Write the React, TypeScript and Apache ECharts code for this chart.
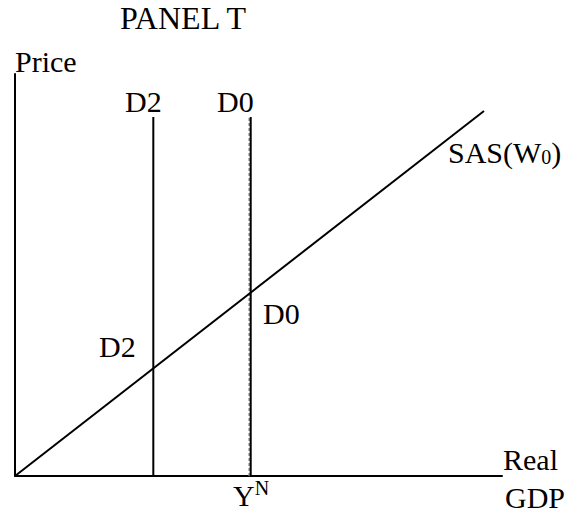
import React, { useEffect, useRef } from "react";
import * as echarts from "echarts";

// Data (arbitrary units: Real GDP on x, Price on y)
const xRange = [0, 100];
const yRange = [0, 100];
const d2X = 28.4; // D2 vertical demand
const d0X = 48.4; // D0 vertical demand at Y^N
const demandTop = 89.3;
const sasStart = [0, 0];
const sasEnd = [96.3, 90.8];

const FONT = "'Liberation Serif', 'Times New Roman', serif";
const FS = 30;

export default function App() {
  const ref = useRef<HTMLDivElement>(null);
  useEffect(() => {
    if (!ref.current) return;
    const chart = echarts.init(ref.current, undefined, { renderer: "svg" });
    const txt = (text: string, x: number, y: number, extra: any = {}) => ({
      type: "text",
      x,
      y,
      style: {
        text,
        fontFamily: FONT,
        fontSize: FS,
        fill: "#000",
        verticalAlign: "middle",
        align: "left",
        ...extra,
      },
    });
    const axisStyle = {
      show: true,
      lineStyle: { color: "#000", width: 2 },
    };
    chart.setOption({
      animation: false,
      backgroundColor: "#fff",
      grid: { left: 15, top: 74, right: 67, bottom: 37, containLabel: false },
      xAxis: {
        type: "value",
        min: xRange[0],
        max: xRange[1],
        axisLine: axisStyle,
        axisTick: { show: false },
        axisLabel: { show: false },
        splitLine: { show: false },
      },
      yAxis: {
        type: "value",
        min: yRange[0],
        max: yRange[1],
        axisLine: axisStyle,
        axisTick: { show: false },
        axisLabel: { show: false },
        splitLine: { show: false },
      },
      series: [
        {
          type: "line",
          data: [sasStart, sasEnd],
          symbol: "none",
          lineStyle: { color: "#000", width: 2 },
          silent: true,
        },
        {
          type: "line",
          data: [
            [d2X, 0],
            [d2X, demandTop],
          ],
          symbol: "none",
          lineStyle: { color: "#000", width: 2 },
          silent: true,
        },
        {
          type: "custom",
          silent: true,
          data: [[d0X, 0, demandTop]],
          renderItem: (params: any, api: any) => {
            const p0 = api.coord([api.value(0), api.value(1)]);
            const p1 = api.coord([api.value(0), api.value(2)]);
            return {
              type: "line",
              shape: { x1: p0[0] - 1.5, y1: p0[1], x2: p1[0] - 1.5, y2: p1[1] },
              style: { stroke: "#888", lineWidth: 1.5, lineDash: [3, 2] },
            };
          },
        },
        {
          type: "line",
          data: [
            [d0X, 0],
            [d0X, demandTop],
          ],
          symbol: "none",
          lineStyle: { color: "#000", width: 2 },
          silent: true,
        },
      ],
      graphic: [
        txt("PANEL T", 120, 17.5, { fontSize: 32 }),
        txt("Price", 15, 61.9),
        txt("D2", 125, 101.9),
        txt("D0", 217, 101.9),
        {
          type: "text",
          x: 448,
          y: 152.9,
          style: {
            text: "SAS(W{s|0})",
            fontFamily: FONT,
            fontSize: FS,
            fill: "#000",
            verticalAlign: "middle",
            align: "left",
            rich: {
              s: { fontFamily: FONT, fontSize: 20, fill: "#000", padding: [8, 0, 0, 0] },
            },
          },
        },
        txt("D0", 263, 313.9),
        txt("D2", 99, 346.9),
        txt("Real", 503, 459.9),
        txt("GDP", 505, 497.9),
        {
          type: "text",
          x: 233,
          y: 495,
          style: {
            text: "Y{s|N}",
            fontFamily: FONT,
            fontSize: FS,
            fill: "#000",
            verticalAlign: "middle",
            align: "left",
            rich: {
              s: { fontFamily: FONT, fontSize: 20, fill: "#000", padding: [0, 0, 15, 0] },
            },
          },
        },
      ],
    });
    return () => chart.dispose();
  }, []);
  return (
    <div
      ref={ref}
      style={{ position: "fixed", left: 0, top: 0, width: 569, height: 513, background: "#fff" }}
    />
  );
}
